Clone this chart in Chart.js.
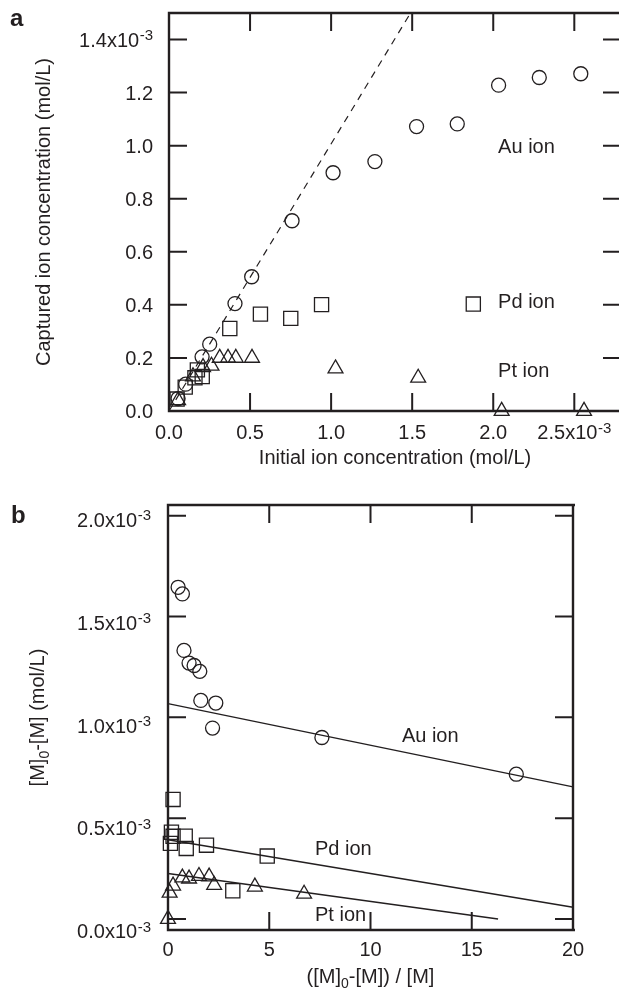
<!DOCTYPE html>
<html>
<head>
<meta charset="utf-8">
<script src="https://cdn.jsdelivr.net/npm/chart.js@4.4.1/dist/chart.umd.min.js"></script>
<style>
  html, body { margin: 0; padding: 0; background: #fff; overflow: hidden; width: 619px; height: 989px; }
  canvas { position: absolute; left: 0; }
  #chartA { top: 0; }
  #chartB { top: 470px; }
</style>
</head>
<body>
<canvas id="chartA" width="625" height="480"></canvas>
<canvas id="chartB" width="619" height="519"></canvas>
<script>
// all concentrations in units of 1e-3 mol/L

// panel a: captured vs initial ion concentration
const auInitial  = [0.056, 0.103, 0.204, 0.251, 0.407, 0.510, 0.759, 1.012, 1.270, 1.527, 1.778, 2.033, 2.284, 2.540];
const auCaptured = [0.047, 0.101, 0.204, 0.252, 0.405, 0.506, 0.717, 0.898, 0.940, 1.072, 1.082, 1.228, 1.257, 1.271];
const pdInitial  = [0.05, 0.10, 0.16, 0.175, 0.205, 0.375, 0.564, 0.751, 0.941, 1.877];
const pdCaptured = [0.045, 0.09, 0.125, 0.155, 0.13, 0.311, 0.365, 0.349, 0.401, 0.403];
const ptInitial  = [0.056, 0.148, 0.21, 0.262, 0.313, 0.364, 0.412, 0.512, 1.027, 1.537, 2.052, 2.56];
const ptCaptured = [0.04, 0.13, 0.165, 0.17, 0.2, 0.2, 0.2, 0.2, 0.16, 0.125, 0.0, 0.0];
const idealX = [0, 1.49];
const idealY = [0, 1.5];

const aXTicks = [0, 0.5, 1.0, 1.5, 2.0, 2.5];
const aXTickLabels = ['0.0', '0.5', '1.0', '1.5', '2.0', '2.5x10'];
const aXTickSups = ['', '', '', '', '', '-3'];
const aYTicks = [0, 0.2, 0.4, 0.6, 0.8, 1.0, 1.2, 1.4];
const aYTickLabels = ['0.0', '0.2', '0.4', '0.6', '0.8', '1.0', '1.2', '1.4x10'];
const aYTickSups = ['', '', '', '', '', '', '', '-3'];
const aIonNames = ['Au ion', 'Pd ion', 'Pt ion'];

// panel b: [M]0-[M] vs ([M]0-[M])/[M]
const auRatio = [0.5, 0.71, 0.79, 1.04, 1.29, 1.57, 1.62, 2.36, 2.2, 7.6, 17.2];
const auDiff  = [1.645, 1.612, 1.332, 1.269, 1.257, 1.228, 1.084, 1.071, 0.947, 0.90, 0.718];
const pdRatio = [0.25, 0.17, 0.25, 0.12, 0.85, 0.9, 1.9, 4.9, 3.2];
const pdDiff  = [0.593, 0.43, 0.41, 0.375, 0.411, 0.35, 0.366, 0.312, 0.14];
const ptRatio = [0.0, 0.08, 0.25, 0.71, 1.04, 1.53, 2.03, 2.28, 4.29, 6.72];
const ptDiff  = [0.0, 0.13, 0.165, 0.205, 0.2, 0.213, 0.21, 0.168, 0.16, 0.125];
const auFitX = [0, 20];
const auFitY = [1.068, 0.655];
const pdFitX = [0, 20];
const pdFitY = [0.393, 0.058];
const ptFitX = [0, 16.3];
const ptFitY = [0.226, 0.0];

const bXTicks = [0, 5, 10, 15, 20];
const bXTickLabels = ['0', '5', '10', '15', '20'];
const bYTicks = [0, 0.5, 1.0, 1.5, 2.0];
const bYTickLabels = ['0.0x10', '0.5x10', '1.0x10', '1.5x10', '2.0x10'];
const bYTickSups = ['-3', '-3', '-3', '-3', '-3'];
const bIonNames = ['Au ion', 'Pd ion', 'Pt ion'];

const ink = '#231f20';
const FONT = '"Liberation Sans", Arial, Helvetica, sans-serif';

function zip(xs, ys) {
  return xs.map((x, i) => ({ x: x, y: ys[i] }));
}

function markers(xs, ys, style, radius) {
  return {
    data: zip(xs, ys),
    pointStyle: style,
    pointRadius: radius,
    pointBorderColor: ink,
    pointBorderWidth: 1.3,
    pointBackgroundColor: 'rgba(0,0,0,0)',
    showLine: false,
    clip: false
  };
}

function fitLine(xs, ys, dash) {
  return {
    data: zip(xs, ys),
    showLine: true,
    borderColor: ink,
    borderWidth: dash ? 1.2 : 1.4,
    borderDash: dash || [],
    pointRadius: 0,
    clip: false
  };
}

// text with an optional superscript tail, e.g. 1.4x10^-3
function tickText(ctx, x, y, main, sup, align) {
  ctx.font = '20px ' + FONT;
  const wMain = ctx.measureText(main).width;
  ctx.font = '15px ' + FONT;
  const wSup = sup ? ctx.measureText(sup).width + 0.5 : 0;
  let x0 = x;
  if (align === 'center') x0 = x - (wMain + wSup) / 2;
  else if (align === 'right') x0 = x - wMain - wSup;
  ctx.textAlign = 'left';
  ctx.textBaseline = 'alphabetic';
  ctx.font = '20px ' + FONT;
  ctx.fillText(main, x0, y);
  if (sup) {
    ctx.font = '15px ' + FONT;
    ctx.fillText(sup, x0 + wMain + 0.5, y - 6.5);
  }
}

// axis title with subscript parts, centred on x
function richText(ctx, x, y, parts) {
  let w = 0;
  parts.forEach(p => {
    ctx.font = (p.sub ? '14px ' : '20px ') + FONT;
    p.w = ctx.measureText(p.t).width;
    w += p.w;
  });
  let cx = x - w / 2;
  ctx.textAlign = 'left';
  ctx.textBaseline = 'alphabetic';
  parts.forEach(p => {
    ctx.font = (p.sub ? '14px ' : '20px ') + FONT;
    ctx.fillText(p.t, cx, y + (p.sub ? 4.5 : 0));
    cx += p.w;
  });
}

function framePlugin(cfg) {
  return {
    id: 'frame',
    afterDraw(chart) {
      const ctx = chart.ctx;
      const a = chart.chartArea;
      const xs = chart.scales.x, ys = chart.scales.y;
      ctx.save();
      ctx.strokeStyle = ink;
      ctx.fillStyle = ink;
      ctx.lineCap = 'butt';

      // box (panel a has its right side cut off in the original)
      ctx.lineWidth = 2.4;
      ctx.beginPath();
      ctx.moveTo(a.right + 2, a.top); ctx.lineTo(a.left, a.top);
      ctx.lineTo(a.left, a.bottom); ctx.lineTo(a.right + 2, a.bottom);
      if (cfg.rightBorder) { ctx.moveTo(a.right, a.top - 1.2); ctx.lineTo(a.right, a.bottom + 1.2); }
      ctx.stroke();

      // inward ticks on all four sides
      ctx.lineWidth = 2;
      const len = 18;
      ctx.beginPath();
      cfg.xTicks.forEach(v => {
        const px = xs.getPixelForValue(v);
        if (px - a.left < 3 || a.right - px < 3) return;
        ctx.moveTo(px, a.bottom); ctx.lineTo(px, a.bottom - len);
        ctx.moveTo(px, a.top); ctx.lineTo(px, a.top + len);
      });
      cfg.yTicks.forEach(v => {
        const py = ys.getPixelForValue(v);
        if (a.bottom - py < 3 || py - a.top < 3) return;
        ctx.moveTo(a.left, py); ctx.lineTo(a.left + len, py);
        ctx.moveTo(a.right, py); ctx.lineTo(a.right - len, py);
      });
      ctx.stroke();

      // tick labels
      cfg.xTicks.forEach((v, i) => {
        tickText(ctx, xs.getPixelForValue(v), cfg.xLabelBase, cfg.xLabels[i], cfg.xSups ? cfg.xSups[i] : '', 'center');
      });
      cfg.yTicks.forEach((v, i) => {
        const py = ys.getPixelForValue(v) + 7 + (cfg.yLabelShift ? cfg.yLabelShift(v) : 0);
        tickText(ctx, cfg.yLabelRight, py, cfg.yLabels[i], cfg.ySups ? cfg.ySups[i] : '', 'right');
      });

      // axis titles
      richText(ctx, (a.left + a.right) / 2, cfg.xTitleBase, cfg.xTitle);
      ctx.save();
      ctx.translate(cfg.yTitleBase, (a.top + a.bottom) / 2);
      ctx.rotate(-Math.PI / 2);
      richText(ctx, 0, 0, cfg.yTitle);
      ctx.restore();

      // ion name labels
      ctx.font = '20px ' + FONT;
      ctx.textAlign = 'left';
      ctx.textBaseline = 'middle';
      cfg.names.forEach((n, i) => {
        ctx.fillText(n, xs.getPixelForValue(cfg.namePos[i][0]), ys.getPixelForValue(cfg.namePos[i][1]));
      });

      // panel letter
      ctx.font = 'bold 24px ' + FONT;
      ctx.textBaseline = 'alphabetic';
      ctx.fillText(cfg.letter, cfg.letterPos[0], cfg.letterPos[1]);
      ctx.restore();
    }
  };
}

const baseOptions = (padding, xr, yr) => ({
  responsive: false,
  animation: false,
  devicePixelRatio: 1,
  events: [],
  // autoPadding would widen the right padding for the marker radius
  layout: { padding: padding, autoPadding: false },
  scales: {
    x: { type: 'linear', min: xr[0], max: xr[1], display: false },
    y: { type: 'linear', min: yr[0], max: yr[1], display: false }
  },
  plugins: { legend: { display: false }, tooltip: { enabled: false } }
});

new Chart(document.getElementById('chartA'), {
  type: 'scatter',
  data: {
    datasets: [
      fitLine(idealX, idealY, [7, 6]),
      markers(auInitial, auCaptured, 'circle', 7),
      markers(pdInitial, pdCaptured, 'rect', 10),
      markers(ptInitial, ptCaptured, 'triangle', 8.6)
    ]
  },
  options: baseOptions({ left: 169, top: 13, right: 4, bottom: 69 }, [0, 2.788], [0, 1.5]),
  plugins: [framePlugin({
    xTicks: aXTicks, xLabels: aXTickLabels, xSups: aXTickSups, xLabelBase: 439,
    yTicks: aYTicks, yLabels: aYTickLabels, ySups: aYTickSups, yLabelRight: 153,
    xTitle: [{ t: 'Initial ion concentration (mol/L)' }], xTitleBase: 464,
    yTitle: [{ t: 'Captured ion concentration (mol/L)' }], yTitleBase: 50,
    names: aIonNames, namePos: [[2.03, 0.995], [2.03, 0.408], [2.03, 0.148]],
    letter: 'a', letterPos: [10, 26]
  })]
});

new Chart(document.getElementById('chartB'), {
  type: 'scatter',
  data: {
    datasets: [
      fitLine(auFitX, auFitY),
      fitLine(pdFitX, pdFitY),
      fitLine(ptFitX, ptFitY),
      markers(auRatio, auDiff, 'circle', 7),
      markers(pdRatio, pdDiff, 'rect', 10),
      markers(ptRatio, ptDiff, 'triangle', 8.6)
    ]
  },
  options: baseOptions({ left: 168, top: 35, right: 46, bottom: 59 }, [0, 20], [-0.0545, 2.053]),
  plugins: [framePlugin({
    xTicks: bXTicks, xLabels: bXTickLabels, xLabelBase: 486,
    yTicks: bYTicks, yLabels: bYTickLabels, ySups: bYTickSups, yLabelRight: 151,
    yLabelShift: v => 4 + (2 - v) * 4.2, rightBorder: true,
    xTitle: [{ t: '([M]' }, { t: '0', sub: true }, { t: '-[M]) / [M]' }], xTitleBase: 513,
    yTitle: [{ t: '[M]' }, { t: '0', sub: true }, { t: '-[M] (mol/L)' }], yTitleBase: 44,
    names: bIonNames, namePos: [[11.55, 0.906], [7.26, 0.347], [7.26, 0.017]],
    letter: 'b', letterPos: [11, 53]
  })]
});
</script>
</body>
</html>
